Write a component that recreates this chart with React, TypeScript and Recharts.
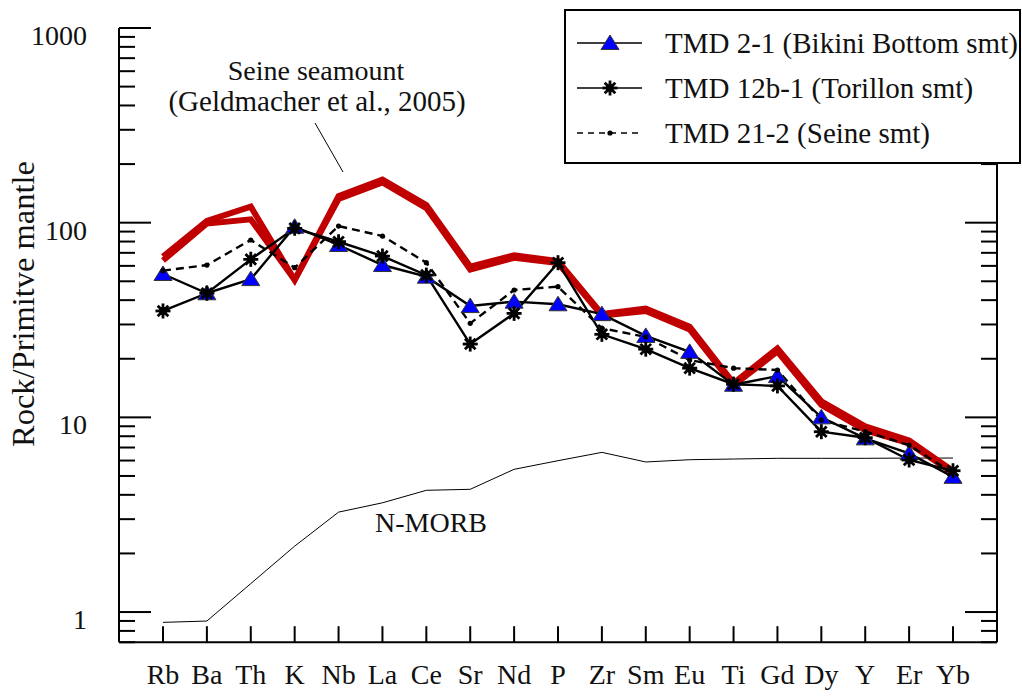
import React from 'react';
import { LineChart, Line, XAxis, YAxis, Legend, Customized } from 'recharts';

// element order on the x axis
const categories = ['Rb', 'Ba', 'Th', 'K', 'Nb', 'La', 'Ce', 'Sr', 'Nd', 'P', 'Zr', 'Sm', 'Eu', 'Ti', 'Gd', 'Dy', 'Y', 'Er', 'Yb'];

// normalized to primitive mantle
const nMorb = [0.885, 0.899, 1.4, 2.18, 3.26, 3.64, 4.22, 4.27, 5.41, 5.99, 6.61, 5.9, 6.06, 6.11, 6.16, 6.16, 6.16, 6.18, 6.18];
const seineA = [66.9, 102, 120.8, 50.8, 137, 166.6, 123.2, 59.5, 68, 63.5, 34, 36.2, 29.2, 15, 22.6, 12.1, 9.0, 7.6, 5.3];
const seineB = [63.9, 99, 104, 50.8, 132.3, 160.8, 118.9, 57.5, 66, 62, 33.3, 35.2, 28.3, 14.6, 21.8, 11.6, 8.6, 7.35, 5.2];
const tmd21 = [54.5, 43.4, 51.3, 95.3, 76.8, 60.6, 52.8, 37.3, 39.3, 38.1, 33.9, 26.2, 21.7, 14.7, 16.3, 10.0, 7.8, 6.53, 4.95];
const tmd12b = [35.2, 43.4, 64.8, 93.5, 79.8, 67.4, 53.8, 23.8, 34.2, 62.3, 26.7, 22.4, 17.9, 14.8, 14.5, 8.44, 7.86, 6.04, 5.32];
const tmd212 = [56.7, 60.6, 81.5, 58.7, 96.1, 85.4, 62.3, 30.4, 45.1, 46.9, 28.7, 25.9, 19.7, 17.9, 17.5, 9.69, 8.44, 7.21, 5.16];

const yTicks = [0.7, 0.8, 0.9, 1, 2, 3, 4, 5, 6, 7, 8, 9, 10, 20, 30, 40, 50, 60, 70, 80, 90, 100, 200, 300, 400, 500, 600, 700, 800, 900, 1000];
const yMajor = [1, 10, 100, 1000];
const legendOrder = ['tmd21', 'tmd12b', 'tmd212'];

const rows = categories.map((el, i) => ({
  el,
  nMorb: nMorb[i],
  seineA: seineA[i],
  seineB: seineB[i],
  tmd21: tmd21[i],
  tmd12b: tmd12b[i],
  tmd212: tmd212[i],
}));

const FONT = '"Liberation Serif", "Times New Roman", serif';
const RED = '#c00000';
const axisStyle = { stroke: '#000', strokeWidth: 2 };

const Triangle = ({ cx, cy }: any) => (
  <polygon
    points={`${cx},${cy - 8} ${cx + 9},${cy + 6.5} ${cx - 9},${cy + 6.5}`}
    fill="#0000ff"
    stroke="#333"
    strokeWidth={1}
  />
);

const Asterisk = ({ cx, cy }: any) => {
  const r = 7.5;
  const d = r * 0.707;
  return (
    <g stroke="#000" strokeWidth={2.8}>
      <line x1={cx - r} y1={cy} x2={cx + r} y2={cy} />
      <line x1={cx} y1={cy - r} x2={cx} y2={cy + r} />
      <line x1={cx - d} y1={cy - d} x2={cx + d} y2={cy + d} />
      <line x1={cx - d} y1={cy + d} x2={cx + d} y2={cy - d} />
      <circle cx={cx} cy={cy} r={4} fill="#000" stroke="none" />
    </g>
  );
};

const SmallDot = ({ cx, cy }: any) => <circle cx={cx} cy={cy} r={2.6} fill="#000" />;

const markers: Record<string, any> = { tmd21: Triangle, tmd12b: Asterisk, tmd212: SmallDot };

const BottomTick = ({ x, y, payload }: any) => (
  <g>
    <line x1={x} y1={y} x2={x} y2={y - 16} stroke="#000" strokeWidth={2} />
    <text x={x} y={y + 42} textAnchor="middle" fontSize={28} fontFamily={FONT} fill="#111">
      {payload.value}
    </text>
  </g>
);

const TopTick = ({ x, y }: any) => <line x1={x} y1={y} x2={x} y2={y + 16} stroke="#000" strokeWidth={2} />;

const LeftTick = ({ x, y, payload }: any) => {
  const major = yMajor.includes(payload.value);
  return (
    <g>
      <line x1={x} y1={y} x2={x + (major ? 32 : 16)} y2={y} stroke="#000" strokeWidth={2} />
      {major && (
        <text x={x - 32} y={y + 17} textAnchor="end" fontSize={28} fontFamily={FONT} fill="#111">
          {payload.value}
        </text>
      )}
    </g>
  );
};

const RightTick = ({ x, y, payload }: any) => {
  const major = yMajor.includes(payload.value);
  return <line x1={x} y1={y} x2={x - (major ? 32 : 16)} y2={y} stroke="#000" strokeWidth={2} />;
};

const renderLegend = (props: any) => {
  const items = (props.payload || [])
    .filter((p: any) => markers[p.dataKey])
    .sort((a: any, b: any) => legendOrder.indexOf(a.dataKey) - legendOrder.indexOf(b.dataKey));
  return (
    <div style={{ width: 457, height: 155, boxSizing: 'border-box', border: '2px solid #000', background: '#fff' }}>
      <svg width={453} height={151} style={{ display: 'block' }}>
        {items.map((p: any, i: number) => {
          const cy = 32 + i * 45;
          const M = markers[p.dataKey];
          return (
            <g key={p.dataKey}>
              <line
                x1={11}
                y1={cy}
                x2={76}
                y2={cy}
                stroke="#000"
                strokeWidth={1.6}
                strokeDasharray={p.dataKey === 'tmd212' ? '6 5' : undefined}
              />
              <M cx={44} cy={cy} />
              <text x={99} y={cy + 10} fontSize={29} fontFamily={FONT} fill="#111">
                {p.value}
              </text>
            </g>
          );
        })}
      </svg>
    </div>
  );
};

const Annotations = () => (
  <g fontFamily={FONT} fontSize={28} fill="#111">
    <text x={316} y={80} textAnchor="middle">Seine seamount</text>
    <text x={317} y={111} textAnchor="middle" fontSize={29}>(Geldmacher et al., 2005)</text>
    <line x1={315} y1={123} x2={343} y2={172} stroke="#000" strokeWidth={1} />
    <text x={431} y={532} textAnchor="middle">N-MORB</text>
    <text
      x={23}
      y={304}
      textAnchor="middle"
      dominantBaseline="central"
      fontSize={31}
      textLength={286}
      lengthAdjust="spacingAndGlyphs"
      transform="rotate(-90 23 304)"
    >
      Rock/Primitve mantle
    </text>
  </g>
);

export default function App() {
  return (
    <div style={{ position: 'absolute', left: 0, top: 0, width: 1022, height: 696, background: '#fff' }}>
      <LineChart width={1022} height={696} data={rows} margin={{ top: 28, right: 0, bottom: 0, left: 0 }}>
        <XAxis
          dataKey="el"
          interval={0}
          height={53.8}
          padding={{ left: 44, right: 44 }}
          tickSize={0}
          tickMargin={0}
          tickLine={false}
          axisLine={axisStyle}
          tick={<BottomTick />}
        />
        <XAxis
          xAxisId="top"
          orientation="top"
          dataKey="el"
          interval={0}
          height={0}
          padding={{ left: 44, right: 44 }}
          tickSize={0}
          tickMargin={0}
          tickLine={false}
          axisLine={axisStyle}
          tick={<TopTick />}
        />
        <YAxis
          type="number"
          scale="log"
          domain={[0.7, 1000]}
          allowDataOverflow
          ticks={yTicks}
          interval={0}
          width={119}
          tickSize={0}
          tickMargin={0}
          tickLine={false}
          axisLine={axisStyle}
          tick={<LeftTick />}
        />
        <YAxis
          yAxisId="right"
          orientation="right"
          type="number"
          scale="log"
          domain={[0.7, 1000]}
          allowDataOverflow
          ticks={yTicks}
          interval={0}
          width={25}
          tickSize={0}
          tickMargin={0}
          tickLine={false}
          axisLine={axisStyle}
          tick={<RightTick />}
        />
        <Line dataKey="nMorb" stroke="#000" strokeWidth={1} dot={false} activeDot={false} legendType="none" isAnimationActive={false} />
        <Line dataKey="seineA" stroke={RED} strokeWidth={6} strokeLinejoin="miter" dot={false} activeDot={false} legendType="none" isAnimationActive={false} />
        <Line dataKey="seineB" stroke={RED} strokeWidth={6} strokeLinejoin="miter" dot={false} activeDot={false} legendType="none" isAnimationActive={false} />
        <Line
          dataKey="tmd21"
          name="TMD 2-1 (Bikini Bottom smt)"
          stroke="#000"
          strokeWidth={2.4}
          dot={(p: any) => <Triangle key={`t${p.index}`} cx={p.cx} cy={p.cy} />}
          activeDot={false}
          isAnimationActive={false}
        />
        <Line
          dataKey="tmd12b"
          name="TMD 12b-1 (Torillon smt)"
          stroke="#000"
          strokeWidth={2.4}
          dot={(p: any) => <Asterisk key={`a${p.index}`} cx={p.cx} cy={p.cy} />}
          activeDot={false}
          isAnimationActive={false}
        />
        <Line
          dataKey="tmd212"
          name="TMD 21-2 (Seine smt)"
          stroke="#000"
          strokeWidth={2.4}
          strokeDasharray="8 5"
          dot={(p: any) => <SmallDot key={`d${p.index}`} cx={p.cx} cy={p.cy} />}
          activeDot={false}
          isAnimationActive={false}
        />
        <Customized component={<Annotations />} />
        <Legend
          layout="horizontal"
          verticalAlign="middle"
          align="center"
          wrapperStyle={{ left: 564, top: 9, width: 457, height: 155 }}
          content={renderLegend}
        />
      </LineChart>
    </div>
  );
}
